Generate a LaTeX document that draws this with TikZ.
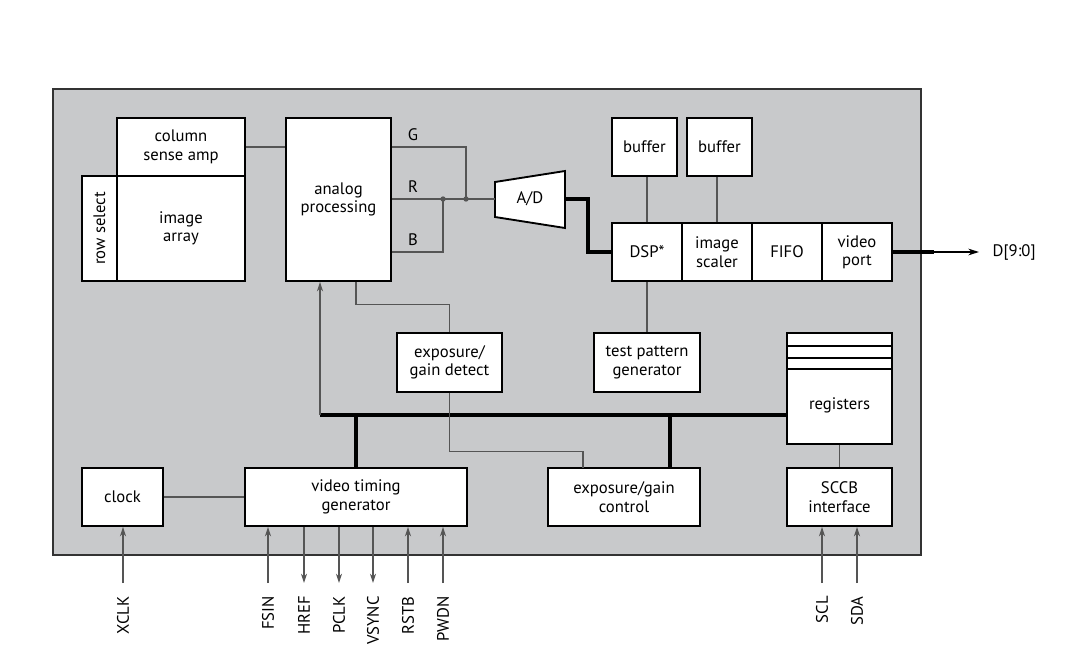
\documentclass[tikz,border=0pt]{standalone}
\usepackage{fontspec}
\setmainfont{PT Sans}
\usetikzlibrary{arrows.meta,positioning}
\definecolor{chipgray}{RGB}{200,201,203}
\definecolor{wiregray}{RGB}{85,85,85}

\begin{document}
\begin{tikzpicture}[x=0.75pt,y=-0.75pt,
  font=\fontsize{12.5}{13.8}\selectfont,
  blk/.style={draw=black,fill=white,line width=1.4pt,inner sep=0pt,align=center},
  sz/.style 2 args={minimum width=#1*0.75pt,minimum height=#2*0.75pt},
  wire/.style={draw=wiregray,line width=0.8pt},
  bus/.style={draw=black,line width=3pt},
  pin/.style={wire,-{Stealth[length=7pt,width=4.5pt]}},
  pinlbl/.style={rotate=90,anchor=east,inner sep=0pt}]
\useasboundingbox (0,0) rectangle (1068,653);

% chip outline
\node[draw=black!80,fill=chipgray,line width=1.4pt,inner sep=0pt,sz={868}{466}] (chip) at (487,322) {};

% sensor part
\node[blk,sz={128}{58}] (csa) at (181,147) {column\\sense amp};
\node[blk,sz={35}{105}] (rowsel) at (99.5,228.5) {};
\node[rotate=90] (rowlbl) at (rowsel.center) {row select};
\node[blk,sz={128}{105}] (imgarr) at (181,228.5) {image\\array};
\node[blk,sz={105}{163}] (ap) at (338.5,199.5) {analog\\processing};

% A/D
\coordinate (adcin) at (495,199);
\coordinate (adcout) at (565,199);
\draw[blk] (495,182) -- (565,171) -- (565,228) -- (495,217) -- cycle;
\node (adc) at (530,199) {A/D};

% digital part
\node[blk,sz={65}{58}] (buf1) at (644.5,147) {buffer};
\node[blk,sz={65}{58}] (buf2) at (719.5,147) {buffer};
\node[blk,sz={70}{58}] (dsp) at (647,252) {DSP*};
\node[blk,sz={70}{58}] (scaler) at (717,252) {image\\scaler};
\node[blk,sz={70}{58}] (fifo) at (787,252) {FIFO};
\node[blk,sz={70}{58}] (vport) at (857,252) {video\\port};
\node[blk,sz={105}{59}] (egd) at (449.5,362.5) {exposure/\\gain detect};
\node[blk,sz={106}{59}] (tpg) at (647,362.5) {test pattern\\generator};

% registers
\node[blk,sz={105}{111}] (regs) at (839.5,388.5) {};
\foreach \ry in {346,358,369}
  \draw[line width=1.4pt] (regs.west |- 0,\ry) -- (regs.east |- 0,\ry);
\node (reglbl) at (839.5,405) {registers};

% bottom row
\node[blk,sz={81}{58}] (clock) at (122.5,497) {clock};
\node[blk,sz={222}{58}] (vtg) at (356,497) {video timing\\generator};
\node[blk,sz={152}{58}] (egc) at (624,497) {exposure/gain\\control};
\node[blk,sz={105}{58}] (sccb) at (839.5,497) {SCCB\\interface};

% analog wires
\coordinate (jB) at (443,199);
\coordinate (jG) at (466,199);
\draw[wire] (csa.east) -- (ap.west |- csa.east);
\draw[wire] (ap.east |- 0,147) -| (jG);
\draw[wire] (ap.east |- jG) -- (adcin);
\draw[wire] (ap.east |- 0,252) -| (jB);
\fill[wiregray] (jB) circle (2pt);
\fill[wiregray] (jG) circle (2pt);
\node (glbl) at (413,135) {G};
\node (rlbl) at (413,187) {R};
\node (blbl) at (413,240) {B};

% data path
\draw[bus] (adcout) -- (588,199) -- (588,252) -- (dsp.west);
\draw[wire] (dsp.north) -- (dsp.north |- buf1.south);
\draw[wire] (scaler.north) -- (scaler.north |- buf2.south);
\draw[wire] (dsp.south) -- (tpg.north);
\coordinate (dtap) at (934,252);
\coordinate (dout) at (979,252);
\draw[bus] (vport.east) -- (dtap);
\draw[draw=black,line width=1pt,-{Stealth[length=8pt,width=5pt]}] (dtap) -- (dout);
\node[anchor=west] (dlbl) at (988,252) {D[9:0]};

% control bus
\coordinate (busL) at (320,415);
\coordinate (egctap) at (670,468);
\coordinate (egcin) at (583,468);
\draw[bus] (busL) -- (regs.west |- busL);
\draw[bus] (vtg.north |- busL) -- (vtg.north);
\draw[bus] (egctap |- busL) -- (egctap);
\draw[pin] (busL) -- (busL |- ap.south);
\draw[wire] (ap.south -| vtg.north) -- ++(0,23) -| (egd.north);
\draw[wire] (egd.south) -- ++(0,59) -| (egcin);
\draw[wire] (regs.south) -- (sccb.north);
\draw[wire] (clock.east) -- (vtg.west);

% pins
\coordinate (pXCLK) at (123,583);
\draw[pin] (pXCLK) -- (pXCLK |- clock.south);
\node[pinlbl] (lXCLK) at (123,596) {XCLK};
\foreach \px/\nm in {268/FSIN,408/RSTB,443/PWDN}{
  \coordinate (p\nm) at (\px,583);
  \draw[pin] (p\nm) -- (p\nm |- vtg.south);
  \node[pinlbl] (l\nm) at (\px,596) {\nm};
}
\foreach \px/\nm in {304/HREF,339/PCLK,373/VSYNC}{
  \coordinate (p\nm) at (\px,583);
  \draw[pin] (p\nm |- vtg.south) -- (p\nm);
  \node[pinlbl] (l\nm) at (\px,596) {\nm};
}
\foreach \px/\nm in {822/SCL,857/SDA}{
  \coordinate (p\nm) at (\px,583);
  \draw[pin] (p\nm) -- (p\nm |- sccb.south);
  \node[pinlbl] (l\nm) at (\px,596) {\nm};
}
\end{tikzpicture}
\end{document}
